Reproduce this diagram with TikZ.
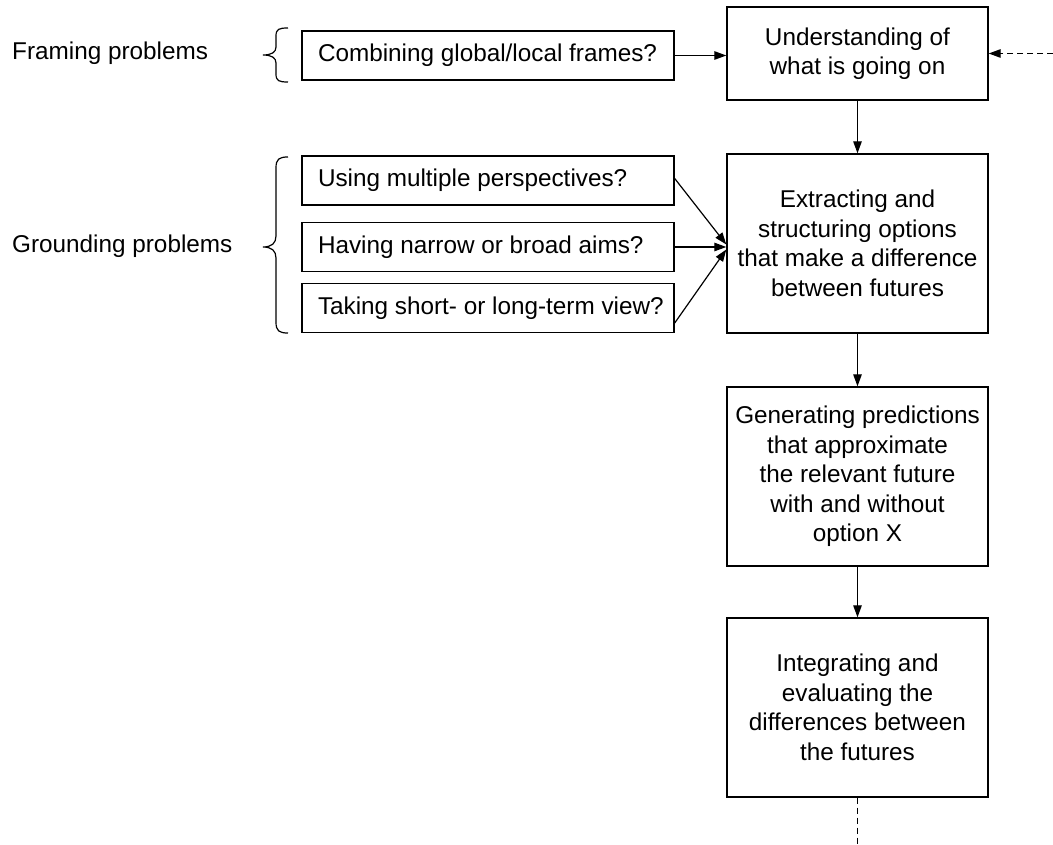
\documentclass[tikz,border=0pt]{standalone}
\usepackage{fontspec}
\setmainfont{Liberation Sans}
\usetikzlibrary{arrows.meta,calc}
\begin{document}
\begin{tikzpicture}[x=1pt,y=-1pt,
  every node/.style={font=\fontsize{24.3}{29.5}\selectfont},
  bigbox/.style={draw, line width=1.4pt, minimum width=261pt, align=center, inner sep=0pt},
  qbox/.style={draw, line width=1.4pt, minimum width=372pt, minimum height=49pt, inner xsep=16pt, inner ysep=0pt},
  arr/.style={line width=1.2pt, -{Triangle[length=12pt,width=8.5pt]}},
  dsh/.style={dash pattern=on 6pt off 4pt},
  brc/.style={line width=1.2pt}]
\useasboundingbox (0,0) rectangle (1053,845);

% main column
\node[bigbox, minimum height=93pt] (U) at (857.5,53.5) {Understanding of\\what is going on};
\node[bigbox, minimum height=179pt] (E) at (857.5,243.5) {Extracting and\\structuring options\\that make a difference\\between futures};
\node[bigbox, minimum height=179pt] (G) at (857.5,476.5) {Generating predictions\\that approximate\\the relevant future\\with and without\\option X};
\node[bigbox, minimum height=179pt] (I) at (857.5,707.5) {Integrating and\\evaluating the\\differences between\\the futures};

% question boxes
\node[qbox] (C) at (488,55.5) {\makebox[340pt][l]{Combining global/local frames?}};
\node[qbox] (Us) at (488,180.5) {\makebox[340pt][l]{Using multiple perspectives?}};
\node[qbox] (Ha) at (488,247) {\makebox[340pt][l]{Having narrow or broad aims?}};
\node[qbox] (Ta) at (488,308) {\makebox[340pt][l]{Taking short- or long-term view?}};

% side labels
\node[anchor=base west, inner sep=0pt] (FP) at (12,60) {Framing problems};
\node[anchor=base west, inner sep=0pt] (GP) at (12,253) {Grounding problems};

% braces
\draw[brc] (288,28) .. controls (279,28) and (276,29) .. (276,36) -- (276,47)
  .. controls (276,52) and (272,55) .. (263,55)
  .. controls (272,55) and (276,58) .. (276,63) -- (276,74)
  .. controls (276,81) and (279,82) .. (288,82);
\draw[brc] (288,157) .. controls (279,157) and (276,159) .. (276,168) -- (276,236)
  .. controls (276,243) and (272,247) .. (263,247)
  .. controls (272,247) and (276,251) .. (276,258) -- (276,322)
  .. controls (276,331) and (279,333) .. (288,333);

% connectors
\coordinate (dr) at (1053,53.5);
\coordinate (db) at (857.5,845);
\draw[arr] (C.east) -- (C.east -| U.west);
\draw[arr, dsh] (dr) -- (U.east);
\draw[arr] (U) -- (E);
\draw[arr] (E) -- (G);
\draw[arr] (G) -- (I);
\draw[line width=1.2pt, dsh] (I) -- (db);
\draw[arr] ($(Us.east)+(0,-2)$) -- ($(E.west)+(0,1)$);
\draw[arr] (Ha.east) -- (Ha.east -| E.west);
\draw[arr] ($(Ta.east)+(0,15)$) -- ($(E.west)+(0,6)$);
\end{tikzpicture}
\end{document}
